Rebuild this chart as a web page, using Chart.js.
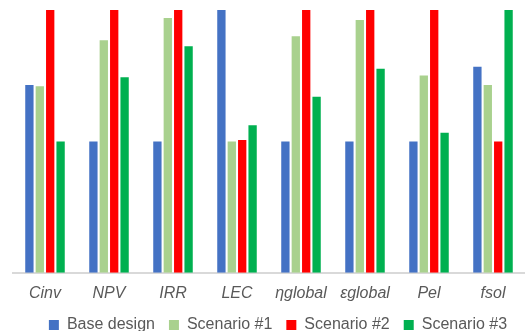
<!DOCTYPE html>
<html>
<head>
<meta charset="utf-8">
<script src="https://cdn.jsdelivr.net/npm/chart.js@4"></script>
<style>
  html, body { margin: 0; padding: 0; background: #fff; }
  #wrap { width: 525px; height: 334px; }
</style>
</head>
<body>
<div id="wrap"><canvas id="perfChart"></canvas></div>
<script>
// Indicators (normalised, best scenario = 1)
const indicators = ['Cinv', 'NPV', 'IRR', 'LEC', 'ηglobal', 'εglobal', 'Pel', 'fsol'];

const baseDesign = [0.715, 0.5, 0.5, 1, 0.5, 0.5, 0.5, 0.784];
const scenario1 = [0.71, 0.885, 0.97, 0.5, 0.9, 0.962, 0.751, 0.715];
const scenario2 = [1, 1, 1, 0.505, 1, 1, 1, 0.5];
const scenario3 = [0.5, 0.744, 0.862, 0.561, 0.67, 0.776, 0.533, 1];

const seriesNames = ['Base design', 'Scenario #1', 'Scenario #2', 'Scenario #3'];
const seriesColors = ['#4472C4', '#A9D18E', '#FF0000', '#00B050'];

const seriesData = [baseDesign, scenario1, scenario2, scenario3];

const fontFamily = '"Liberation Sans", Arial, sans-serif';

// shrink the legend block so the plot gets more height,
// then place the legend row a bit up and to the right
const legendTighten = {
  id: 'legendTighten',
  beforeInit(chart) {
    const origFit = chart.legend.fit;
    chart.legend.fit = function () {
      origFit.bind(chart.legend)();
      this.height -= 12;
    };
  },
  afterLayout(chart) {
    chart.legend.left += 9;
    chart.legend.right += 9;
    chart.legend.top -= 3;
    chart.legend.bottom -= 3;
  }
};

const ctx = document.getElementById('perfChart').getContext('2d');

const perfChart = new Chart(ctx, {
  type: 'bar',
  data: {
    labels: indicators,
    datasets: seriesData.map((values, i) => ({
      label: seriesNames[i],
      data: values,
      backgroundColor: seriesColors[i],
      borderWidth: 0,
      categoryPercentage: 0.65,
      barPercentage: 0.8
    }))
  },
  options: {
    responsive: true,
    maintainAspectRatio: false,
    animation: false,
    layout: {
      padding: { left: 13, right: 0, top: 10, bottom: 0 }
    },
    plugins: {
      legend: {
        position: 'bottom',
        labels: {
          boxWidth: 10,
          boxHeight: 10,
          padding: 14,
          color: '#595959',
          font: { family: fontFamily, size: 16 }
        }
      },
      tooltip: { enabled: false }
    },
    scales: {
      x: {
        grid: { display: false },
        border: { color: '#d9d9d9', width: 2 },
        ticks: {
          color: '#595959',
          padding: 3,
          font: { family: fontFamily, size: 16, style: 'italic' }
        }
      },
      y: {
        display: false,
        min: 0,
        max: 1
      }
    }
  },
  plugins: [legendTighten]
});
</script>
</body>
</html>
